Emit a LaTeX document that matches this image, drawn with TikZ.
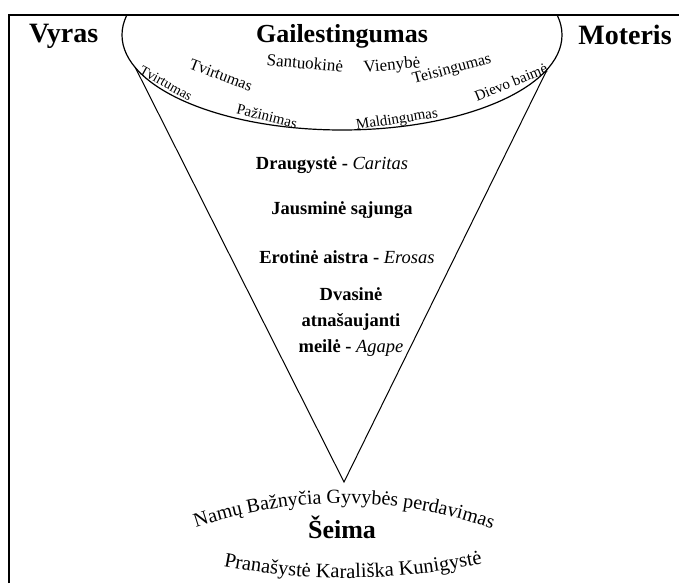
\documentclass[tikz,border=0pt]{standalone}
\usepackage{fontspec}
\setmainfont{Liberation Serif}
\usetikzlibrary{decorations.text}

\tikzset{
  head/.style={font=\bfseries\fontsize{28}{32}\selectfont, inner sep=0pt},
  virtue/.style={font=\fontsize{16}{18}\selectfont, inner sep=0pt},
  love/.style={font=\bfseries\fontsize{18.5}{26}\selectfont, inner sep=0pt},
}

\begin{document}
\begin{tikzpicture}[x=1pt, y=-1pt, line cap=round]
			\useasboundingbox (0,0) rectangle (679,583);

			% Draw the frame
			\draw[line width=2pt, line cap=butt] (8.5,583) -- (8.5,15) -- (679,15);

			% Draw the cup
			\coordinate (cup) at (342,35);
			\begin{scope}
				\clip (0,15) rectangle (679,583);
				\draw[line width=1.2pt] (cup) ellipse [x radius=220, y radius=95];
			\end{scope}

			% Draw the cone
			\path (cup) ++(160:220 and 95) coordinate (coneL);
			\path (cup) ++(21:220 and 95) coordinate (coneR);
			\coordinate (apex) at (344,482);
			\draw[line width=1pt] (coneL) -- (apex) -- (coneR);

			% Man, woman and the top of the cup
			\node[head, anchor=base west] (vyras) at (29,43) {Vyras};
			\node[head, anchor=base] (moteris) at (625,45) {Moteris};
			\node[head, font=\bfseries\fontsize{26}{30}\selectfont, anchor=base] (gailestingumas) at (342,43) {Gailestingumas};

			\node[virtue, font=\fontsize{17}{19}\selectfont, rotate=-5] (santuokine) at (305,63) {Santuokinė};
			\node[virtue, font=\fontsize{17}{19}\selectfont, rotate=5] (vienybe) at (392,66) {Vienybė};
			\node[virtue, rotate=-21] (tvirtumas) at (221,75) {Tvirtumas};
			\node[virtue, font=\fontsize{14}{16}\selectfont, rotate=-29] (tvirtumasL) at (166,83) {Tvirtumas};
			\node[virtue, font=\fontsize{15}{17}\selectfont, rotate=-14] (pazinimas) at (267,116) {Pažinimas};
			\node[virtue, font=\fontsize{15}{17}\selectfont, rotate=9] (maldingumas) at (397,120) {Maldingumas};
			\node[virtue, rotate=15] (teisingumas) at (452,70) {Teisingumas};
			\node[virtue, font=\fontsize{15}{17}\selectfont, rotate=22] (dievo) at (511,82) {Dievo baimė};

			% Kinds of love inside the cone
			\node[love, anchor=base] (caritas) at (332,169) {Draugystė - \textit{\mdseries Caritas}};
			\node[love, anchor=base] (sajunga) at (342,214) {Jausminė sąjunga};
			\node[love, anchor=base] (erosas) at (347,263) {Erotinė aistra - \textit{\mdseries Erosas}};
			\node[love, align=center, anchor=north] (agape) at (351,287) {Dvasinė\\atnašaujanti\\meilė - \textit{\mdseries Agape}};

			% The family
			\node[head, font=\bfseries\fontsize{26}{30}\selectfont, anchor=base] (seima) at (342,538) {Šeima};
			\path[decorate, decoration={text along path, text align=center,
				text={|\fontsize{20}{24}\selectfont|Namų Bažnyčia Gyvybės perdavimas}}]
				(198,527) .. controls (295,495) and (393,495) .. (490,528);
			\path[decorate, decoration={text along path, text align=center,
				text={|\fontsize{20.5}{24}\selectfont|Pranašystė Karališka Kunigystė}}]
				(222,566) .. controls (309,583) and (396,582) .. (484,563);
		\end{tikzpicture}
\end{document}
